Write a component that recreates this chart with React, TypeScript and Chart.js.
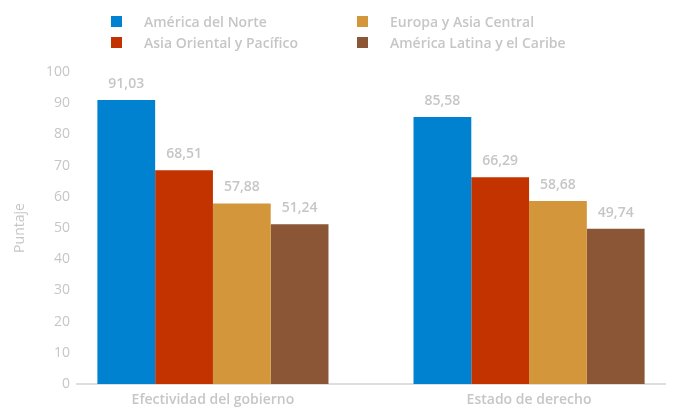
import React, { useEffect, useRef } from "react";
import { Chart, registerables } from "chart.js";

Chart.register(...registerables);

const categories = ["Efectividad del gobierno", "Estado de derecho"];
const seriesNames = [
  "América del Norte",
  "Asia Oriental y Pacífico",
  "Europa y Asia Central",
  "América Latina y el Caribe",
];
const seriesColors = ["#0082d0", "#c23300", "#d4963a", "#8a5636"];
const northAmerica = [91.03, 85.58];
const eastAsiaPacific = [68.51, 66.29];
const europeCentralAsia = [57.88, 58.68];
const latinAmericaCaribbean = [51.24, 49.74];
const yMin = 0;
const yMax = 100;
const yStep = 10;
const yTitle = "Puntaje";

const seriesValues = [northAmerica, eastAsiaPacific, europeCentralAsia, latinAmericaCaribbean];
// legend is column-major: column 1 = series 0,1 ; column 2 = series 2,3
const legendOrder = [0, 1, 2, 3];

const FONT = "'Open Sans', 'Noto Sans', sans-serif";
const GREY = "#c6c6c6";

const valueLabels = {
  id: "valueLabels",
  afterDatasetsDraw(chart: any) {
    const ctx = chart.ctx;
    ctx.save();
    ctx.font = `600 14px ${FONT}`;
    ctx.fillStyle = GREY;
    ctx.textAlign = "center";
    ctx.textBaseline = "middle";
    chart.data.datasets.forEach((ds: any, di: number) => {
      const meta = chart.getDatasetMeta(di);
      meta.data.forEach((el: any, i: number) => {
        const v = ds.data[i].y as number;
        ctx.fillText(v.toFixed(2).replace(".", ","), el.x, el.y - 16);
      });
    });
    ctx.restore();
  },
};

export default function App() {
  const canvasRef = useRef<HTMLCanvasElement | null>(null);

  useEffect(() => {
    if (!canvasRef.current) return;
    const chart = new Chart(canvasRef.current, {
      type: "bar",
      data: {
        datasets: seriesNames.map((name, si) => ({
          label: name,
          data: seriesValues[si].map((v, i) => ({ x: i, y: v })),
          backgroundColor: seriesColors[si],
          borderWidth: 0,
          categoryPercentage: 0.731,
          barPercentage: 1,
        })),
      },
      options: {
        responsive: false,
        animation: false,
        devicePixelRatio: 1,
        layout: { padding: { top: 72, right: 11, left: 0, bottom: 0 } },
        plugins: {
          legend: { display: false },
          tooltip: { enabled: false },
        },
        scales: {
          x: {
            type: "linear",
            min: -0.43,
            max: 1.43,
            offset: false,
            grid: { display: false, drawTicks: false, offset: false },
            border: { display: true, color: "#dedede", width: 2 },
            afterBuildTicks: (scale: any) => {
              scale.ticks = categories.map((_, i) => ({ value: i }));
            },
            afterFit: (scale: any) => {
              scale.height = 24;
            },
            ticks: {
              padding: 8,
              maxRotation: 0,
              autoSkip: false,
              color: GREY,
              font: { family: FONT, size: 14, weight: "600" },
              callback: (v: any) => categories[Math.round(Number(v))] ?? "",
            },
          },
          y: {
            min: yMin,
            max: yMax,
            grid: { display: false, drawTicks: false },
            border: { display: false },
            afterFit: (scale: any) => {
              scale.width = 77;
            },
            ticks: {
              stepSize: yStep,
              padding: 7,
              color: GREY,
              font: { family: FONT, size: 14, weight: "400" },
            },
            title: {
              display: true,
              text: yTitle,
              color: GREY,
              padding: { top: 12, bottom: 0 },
              font: { family: FONT, size: 14, weight: "400" },
            },
          },
        },
      },
      plugins: [valueLabels],
    } as any);
    return () => chart.destroy();
  }, []);

  const legendPos = [
    { left: 111, top: 11 },
    { left: 111, top: 32 },
    { left: 357, top: 11 },
    { left: 357, top: 32 },
  ];

  return (
    <div style={{ position: "absolute", left: 0, top: 0, width: 676, height: 408, background: "#fff" }}>
      <canvas ref={canvasRef} width={676} height={408} style={{ position: "absolute", left: 0, top: 0 }} />
      {legendOrder.map((si, k) => (
        <div
          key={si}
          style={{
            position: "absolute",
            left: legendPos[k].left,
            top: legendPos[k].top,
            height: 21,
            display: "flex",
            alignItems: "center",
            whiteSpace: "nowrap",
          }}
        >
          <span style={{ width: 11, height: 11, background: seriesColors[si], display: "inline-block", marginRight: 22 }} />
          <span style={{ fontFamily: FONT, fontSize: 14, fontWeight: 600, color: GREY, lineHeight: "21px" }}>
            {seriesNames[si]}
          </span>
        </div>
      ))}
    </div>
  );
}
